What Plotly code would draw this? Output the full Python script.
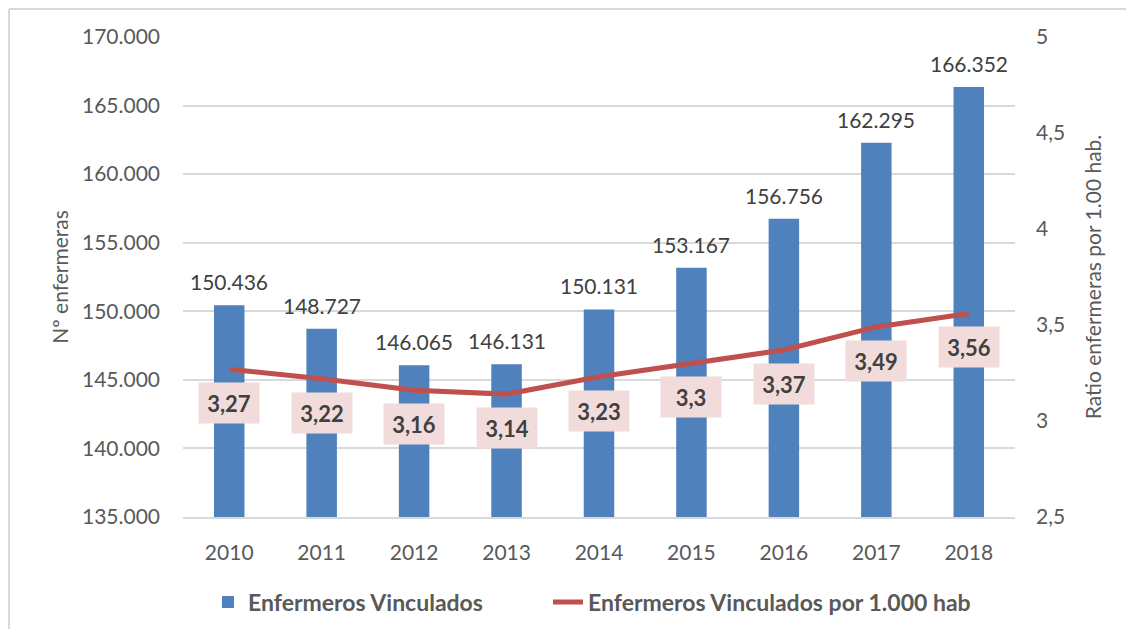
import plotly.graph_objects as go

years = ["2010", "2011", "2012", "2013", "2014", "2015", "2016", "2017", "2018"]
enfermeros = [150436, 148727, 146065, 146131, 150131, 153167, 156756, 162295, 166352]
enfermeros_labels = ["150.436", "148.727", "146.065", "146.131", "150.131",
                     "153.167", "156.756", "162.295", "166.352"]
ratio = [3.27, 3.22, 3.16, 3.14, 3.23, 3.30, 3.37, 3.49, 3.56]
ratio_labels = ["3,27", "3,22", "3,16", "3,14", "3,23", "3,3", "3,37", "3,49", "3,56"]

BLUE = "#4F81BD"
RED = "#C0504D"
PINK = "#F2DCDB"
GREY = "#595959"
DARK = "#404040"
FONT = "Lato"

W, H = 1118, 621
L, R, T, B = 175, 111, 29, 112
PW, PH = W - L - R, H - T - B

fig = go.Figure()
fig.add_trace(
    go.Bar(
        x=years,
        y=enfermeros,
        name="Enfermeros Vinculados",
        marker=dict(color=BLUE, line=dict(width=0)),
        legend="legend",
    )
)
fig.add_trace(
    go.Scatter(
        x=years,
        y=ratio,
        name="Enfermeros Vinculados por 1.000 hab",
        mode="lines",
        line=dict(color=RED, width=5),
        yaxis="y2",
        legend="legend2",
    )
)

# bar value labels (category axis -> index for x)
for i, (v, lab) in enumerate(zip(enfermeros, enfermeros_labels)):
    fig.add_annotation(
        x=i, y=v, xref="x", yref="y", text=lab, showarrow=False,
        yanchor="bottom", yshift=9,
        font=dict(size=21, color=DARK, family=FONT),
    )

# ratio labels in pink boxes under the line
for i, (r, lab) in enumerate(zip(ratio, ratio_labels)):
    fig.add_annotation(
        x=i, y=r, xref="x", yref="y2", text="<b>%s</b>" % lab, showarrow=False,
        yshift=-34, bgcolor=PINK, width=58, height=38,
        font=dict(size=22, color=DARK, family=FONT),
    )

# chart frame: only top and left edges are visible in the source
top = 1 + (T - 1) / PH
left = (1 - L) / PW
fig.add_shape(type="line", xref="paper", yref="paper", x0=left, x1=(W - L) / PW, y0=top, y1=top,
              line=dict(color="#D9D9D9", width=2))
fig.add_shape(type="line", xref="paper", yref="paper", x0=left, x1=left, y0=-B / PH, y1=top,
              line=dict(color="#D9D9D9", width=2))

legend_font = dict(size=23, color=GREY, family=FONT, weight="bold")
legend_y = 1 - 594 / H
fig.update_layout(
    width=W,
    height=H,
    margin=dict(l=L, r=R, t=T, b=B, autoexpand=False),
    plot_bgcolor="white",
    paper_bgcolor="white",
    separators=",.",
    bargap=0.67,
    font=dict(family=FONT, size=21, color=GREY),
    showlegend=True,
    legend=dict(orientation="h", x=0.030, xanchor="left", y=legend_y, yref="container",
                yanchor="middle", font=legend_font),
    legend2=dict(orientation="h", x=0.4387, xanchor="left", y=legend_y, yref="container",
                 yanchor="middle", font=legend_font),
    xaxis=dict(
        type="category", range=[-0.5, 8.5], showgrid=False, showline=True,
        linecolor="#D9D9D9", linewidth=2,
        ticks="", tickfont=dict(size=21, color=GREY), ticklabelstandoff=16,
    ),
    yaxis=dict(
        range=[135000, 170000], dtick=5000, tickformat=",.0f",
        showgrid=True, gridcolor="#D9D9D9", gridwidth=2, zeroline=False,
        tickfont=dict(size=21, color=GREY), ticklabelstandoff=22,
        title=dict(text="Nº enfermeras", font=dict(size=21, color=GREY), standoff=7),
    ),
    yaxis2=dict(
        range=[2.5, 5], dtick=0.5, overlaying="y", side="right",
        showgrid=False, zeroline=False,
        tickfont=dict(size=21, color=GREY), ticklabelstandoff=20,
        title=dict(text="Ratio enfermeras por 1.00 hab.", font=dict(size=21, color=GREY), standoff=22),
    ),
)

fig.write_html("out.html")
